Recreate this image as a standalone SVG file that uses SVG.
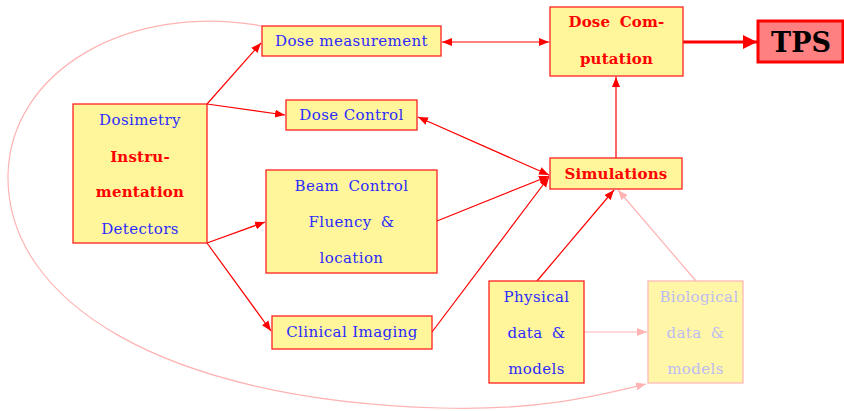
<svg xmlns="http://www.w3.org/2000/svg" width="844" height="411" viewBox="0 0 844 411">
  <defs>
    <marker id="arr" viewBox="0 0 10 10" refX="10" refY="5" markerWidth="10" markerHeight="10" markerUnits="userSpaceOnUse" orient="auto-start-reverse">
      <path d="M0,1 L10,5 L0,9 z" fill="#ff0000"/>
    </marker>
    <marker id="arrBig" viewBox="0 0 10 10" refX="10" refY="5" markerWidth="16" markerHeight="14" markerUnits="userSpaceOnUse" orient="auto">
      <path d="M0,0 L10,5 L0,10 z" fill="#ff0000"/>
    </marker>
    <marker id="arrFade" viewBox="0 0 10 10" refX="10" refY="5" markerWidth="10" markerHeight="10" markerUnits="userSpaceOnUse" orient="auto">
      <path d="M0,1 L10,5 L0,9 z" fill="#ffb3b3"/>
    </marker>
  </defs>
  <style>
    .box { fill: #fff59a; stroke: #ff2020; stroke-width: 1.3; }
    .fade { fill: #fff6a8; stroke: #ffb8b8; }
    .t { font-family: "DejaVu Serif", "Liberation Serif", serif; font-size: 15px; letter-spacing: 0.4px; fill: #2b2bff; text-anchor: middle; }
    .tf { fill: #bcbcf2; }
    .r { fill: #ff0000; font-weight: bold; letter-spacing: 0.2px; }
    .c { fill: none; stroke: #ff0000; stroke-width: 1.2; }
    .cf { fill: none; stroke: #ffb3b3; stroke-width: 1.2; }
  </style>

  <!-- connectors -->
  <g id="connectors">
    <path class="cf" d="M262,26 C130,2 10,70 8,175 C6,300 160,400 440,408 C540,411 600,395 646,384" marker-end="url(#arrFade)"/>
    <line class="c" x1="207" y1="104" x2="261" y2="43" marker-end="url(#arr)"/>
    <line class="c" x1="207" y1="104" x2="285" y2="115" marker-end="url(#arr)"/>
    <line class="c" x1="207" y1="243" x2="265" y2="222" marker-end="url(#arr)"/>
    <line class="c" x1="207" y1="243" x2="271" y2="331" marker-end="url(#arr)"/>
    <line class="c" x1="442" y1="42" x2="549" y2="42" marker-start="url(#arr)" marker-end="url(#arr)"/>
    <line class="c" x1="418" y1="117" x2="549" y2="175" marker-start="url(#arr)" marker-end="url(#arr)"/>
    <line class="c" x1="437" y1="221" x2="549" y2="176" marker-end="url(#arr)"/>
    <line class="c" x1="432" y1="332" x2="549" y2="177" marker-end="url(#arr)"/>
    <line class="c" x1="616" y1="158" x2="616" y2="77" marker-end="url(#arr)"/>
    <line class="c" x1="537" y1="281" x2="614" y2="190" marker-end="url(#arr)"/>
    <line class="cf" x1="696" y1="281" x2="618" y2="190" marker-end="url(#arrFade)"/>
    <line class="cf" x1="584" y1="332" x2="647" y2="332" marker-end="url(#arrFade)"/>
    <line x1="683" y1="42" x2="757" y2="42" stroke="#ff0000" stroke-width="3" marker-end="url(#arrBig)"/>
  </g>

  <g id="dose-measurement">
    <rect class="box" x="262" y="26" width="179" height="30"/>
    <text class="t" x="351.5" y="46">Dose measurement</text>
  </g>

  <g id="dose-control">
    <rect class="box" x="286" y="100" width="131" height="30"/>
    <text class="t" x="351.5" y="120">Dose Control</text>
  </g>

  <g id="dosimetry">
    <rect class="box" x="73" y="104" width="134" height="139"/>
    <text class="t" x="140" y="125">Dosimetry</text>
    <text class="t r" x="140" y="162">Instru-</text>
    <text class="t r" x="140" y="197">mentation</text>
    <text class="t" x="140" y="234">Detectors</text>
  </g>

  <g id="beam-control">
    <rect class="box" x="266" y="170" width="171" height="103"/>
    <text class="t" x="351.5" y="191" word-spacing="4">Beam Control</text>
    <text class="t" x="351.5" y="227" word-spacing="4">Fluency &amp;</text>
    <text class="t" x="351.5" y="263">location</text>
  </g>

  <g id="clinical-imaging">
    <rect class="box" x="272" y="316" width="160" height="33"/>
    <text class="t" x="352" y="337">Clinical Imaging</text>
  </g>

  <g id="dose-computation">
    <rect class="box" x="550" y="7" width="133" height="69"/>
    <text class="t r" x="616.5" y="27" word-spacing="4">Dose Com-</text>
    <text class="t r" x="616.5" y="64">putation</text>
  </g>

  <g id="tps">
    <rect x="758" y="21" width="85" height="41" fill="#ff8080" stroke="#ff0000" stroke-width="3"/>
    <text x="801" y="52" font-family="DejaVu Serif, Liberation Serif, serif" font-size="27" font-weight="bold" fill="#000000" text-anchor="middle">TPS</text>
  </g>

  <g id="simulations">
    <rect class="box" x="550" y="158" width="132" height="31"/>
    <text class="t r" x="616" y="179">Simulations</text>
  </g>

  <g id="physical-data">
    <rect class="box" x="489" y="281" width="95" height="102"/>
    <text class="t" x="536.5" y="302">Physical</text>
    <text class="t" x="536.5" y="338" word-spacing="4">data &amp;</text>
    <text class="t" x="536.5" y="374">models</text>
  </g>

  <g id="biological-data">
    <rect class="box fade" x="648" y="281" width="95" height="102"/>
    <text class="t tf" x="699" y="302">Biological</text>
    <text class="t tf" x="695.5" y="338" word-spacing="4">data &amp;</text>
    <text class="t tf" x="695.5" y="374">models</text>
  </g>
</svg>
